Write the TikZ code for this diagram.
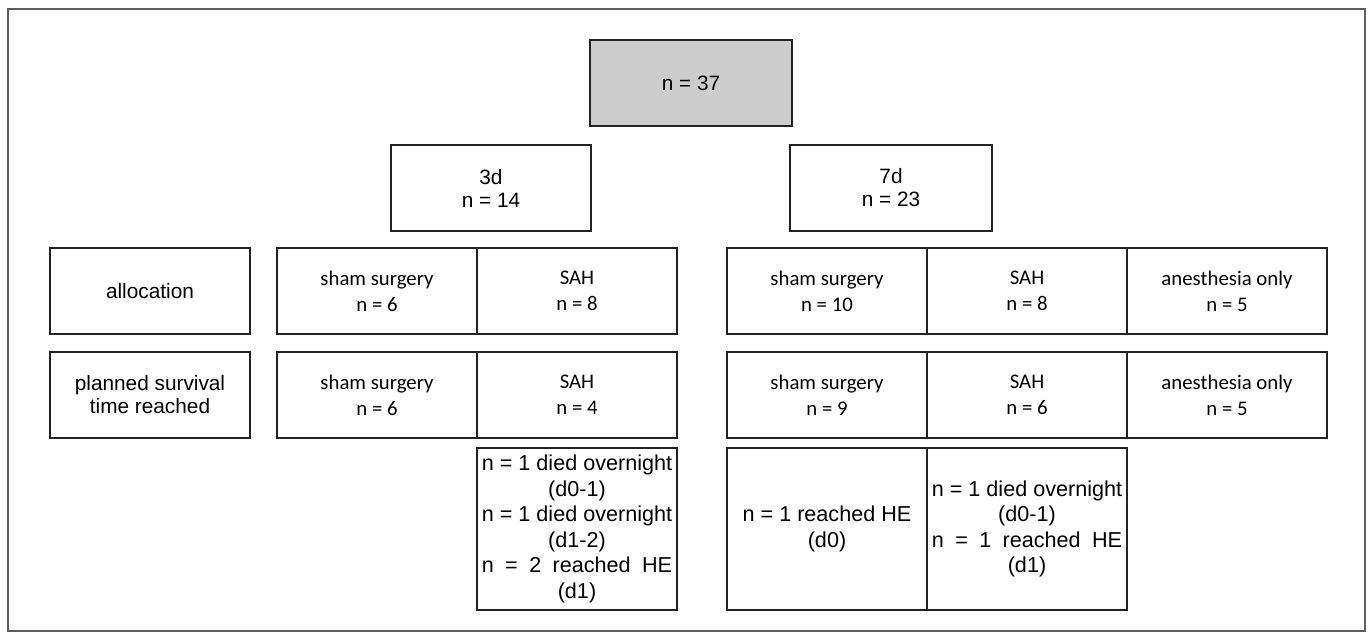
\documentclass[tikz,border=0pt]{standalone}
\usepackage{fontspec}
\setmainfont{Liberation Sans}
\newfontfamily\calibrifont{Carlito}
\definecolor{boxgray}{RGB}{205,205,205}
\definecolor{framegray}{RGB}{95,95,95}
\definecolor{edgeblack}{RGB}{35,35,35}
\newlength\linewd

\begin{document}
\begin{tikzpicture}[x=0.5pt,y=-0.5pt]
\tikzstyle{every node}+=[inner sep=0pt]
\tikzstyle{cell}=[draw=edgeblack, line width=1.1pt, rectangle, minimum width=100pt, minimum height=43pt, align=center, font=\fontsize{10.4}{11.5}\selectfont]
\tikzstyle{calcell}=[cell, font=\calibrifont\fontsize{10.4}{13}\selectfont]
\tikzstyle{notecell}=[cell, minimum height=81pt, font=\fontsize{10.8}{12.75}\selectfont]
\useasboundingbox (0,0) rectangle (1372,638);
\draw [framegray, line width=1pt] (8,9) rectangle (1365,631);
% total and the two survival times
\node [cell, fill=boxgray, minimum width=101pt] (total) at (691,83) {n = 37};
\node [cell] (three) at (491,188) {3d\\n = 14};
\node [cell, minimum width=101pt] (seven) at (891,188) {7d\\n = 23};
% row labels
\node [cell] (alloc) at (150,291) {allocation};
\node [cell] (planned) at (150,395) {planned survival\\time reached};
% 3d groups
\node [calcell] (shamA) at (377,291) {sham surgery\\n = 6};
\node [calcell] (sahA) at (577,291) {SAH\\n = 8};
\node [calcell] (shamB) at (377,395) {sham surgery\\n = 6};
\node [calcell] (sahB) at (577,395) {SAH\\n = 4};
% 7d groups
\node [calcell] (shamC) at (827,291) {sham surgery\\n = 10};
\node [calcell] (sahC) at (1027,291) {SAH\\n = 8};
\node [calcell] (anesC) at (1227,291) {anesthesia only\\n = 5};
\node [calcell] (shamD) at (827,395) {sham surgery\\n = 9};
\node [calcell] (sahD) at (1027,395) {SAH\\n = 6};
\node [calcell] (anesD) at (1227,395) {anesthesia only\\n = 5};
% losses
\node [notecell] (lossA) at (577,529) {n = 1 died overnight\\(d0-1)\\n = 1 died overnight\\(d1-2)\\\settowidth\linewd{n = 1 died overnight}\makebox[\linewd][s]{n = 2 reached HE}\\(d1)};
\node [notecell] (lossB) at (827,529) {n = 1 reached HE\\(d0)};
\node [notecell] (lossC) at (1027,529) {n = 1 died overnight\\(d0-1)\\\settowidth\linewd{n = 1 died overnight}\makebox[\linewd][s]{n = 1 reached HE}\\(d1)};
\end{tikzpicture}
\end{document}
